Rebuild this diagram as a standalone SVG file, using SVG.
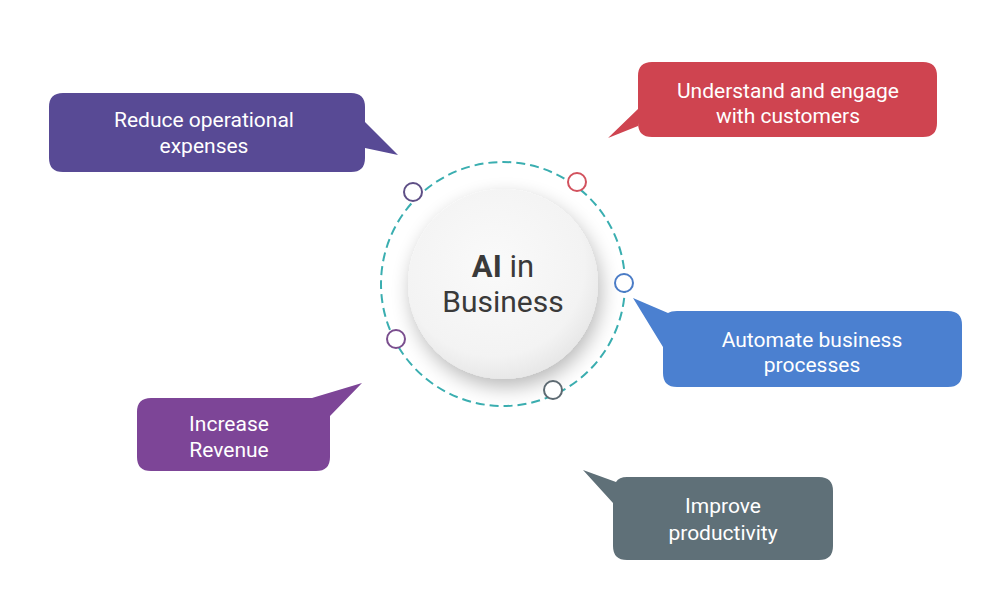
<svg xmlns="http://www.w3.org/2000/svg" width="998" height="602" viewBox="0 0 998 602">
<defs>
<filter id="sh" x="-40%" y="-40%" width="180%" height="180%">
<feGaussianBlur in="SourceAlpha" stdDeviation="10"/>
<feOffset dx="3" dy="8"/>
<feComponentTransfer><feFuncA type="linear" slope="0.28"/></feComponentTransfer>
<feMerge><feMergeNode/><feMergeNode in="SourceGraphic"/></feMerge>
</filter>
<radialGradient id="cg" cx="0.45" cy="0.4" r="0.6">
<stop offset="0" stop-color="#fafafa"/>
<stop offset="0.8" stop-color="#f3f3f3"/>
<stop offset="1" stop-color="#e8e8e8"/>
</radialGradient>
</defs>
<style>
.lbl{font-family:Roboto,"Liberation Sans",sans-serif;font-size:21px;fill:#ffffff;text-anchor:middle}
.dot{fill:#ffffff;stroke-width:2}
</style>
<rect width="998" height="602" fill="#ffffff"/>
<g id="connectors">
<circle cx="503" cy="284" r="122" fill="none" stroke="#3aaeb0" stroke-width="2" stroke-dasharray="9 5"/>
</g>
<g id="center">
<circle cx="503" cy="284" r="95" fill="url(#cg)" filter="url(#sh)"/>
<text x="503" y="277" font-family="Roboto,'Liberation Sans',sans-serif" font-size="31" fill="#3a3a3a" text-anchor="middle"><tspan font-weight="bold">AI</tspan> in</text>
<text x="503" y="312" font-family="Roboto,'Liberation Sans',sans-serif" font-size="30" fill="#3a3a3a" text-anchor="middle">Business</text>
</g>
<g id="dots">
<circle class="dot" cx="413" cy="192" r="9" stroke="#5e4f86"/>
<circle class="dot" cx="577" cy="182" r="9" stroke="#d2525e"/>
<circle class="dot" cx="624" cy="283" r="9" stroke="#4b7cc6"/>
<circle class="dot" cx="396" cy="339" r="9" stroke="#7a4e8e"/>
<circle class="dot" cx="553" cy="390" r="9" stroke="#5d6a72"/>
</g>
<g id="reduce">
<path d="M63 93 H351 Q365 93 365 107 V122 L398 155 L365 148 V158 Q365 172 351 172 H63 Q49 172 49 158 V107 Q49 93 63 93 Z" fill="#584a95"/>
<text class="lbl" x="204" y="127">Reduce operational</text>
<text class="lbl" x="204" y="153">expenses</text>
</g>
<g id="understand">
<path d="M652 62 H923 Q937 62 937 76 V123 Q937 137 923 137 H652 Q638 137 638 123 V126 L608 138 L638 109 V76 Q638 62 652 62 Z" fill="#cf4450"/>
<text class="lbl" x="788" y="98">Understand and engage</text>
<text class="lbl" x="788" y="123">with customers</text>
</g>
<g id="automate">
<path d="M677 311 H948 Q962 311 962 325 V373 Q962 387 948 387 H677 Q663 387 663 373 V347 L633 298 L668 313 Q671 311 677 311 Z" fill="#4b80d0"/>
<text class="lbl" x="812" y="347">Automate business</text>
<text class="lbl" x="812" y="372">processes</text>
</g>
<g id="increase">
<path d="M151 398 H312 L362 383 L330 416 V457 Q330 471 316 471 H151 Q137 471 137 457 V412 Q137 398 151 398 Z" fill="#7d4597"/>
<text class="lbl" x="229" y="431">Increase</text>
<text class="lbl" x="229" y="457">Revenue</text>
</g>
<g id="improve">
<path d="M627 477 H819 Q833 477 833 491 V546 Q833 560 819 560 H627 Q613 560 613 546 V503 L583 470 L616 482 Q619 477 627 477 Z" fill="#5f7078"/>
<text class="lbl" x="723" y="513">Improve</text>
<text class="lbl" x="723" y="540">productivity</text>
</g>
</svg>
